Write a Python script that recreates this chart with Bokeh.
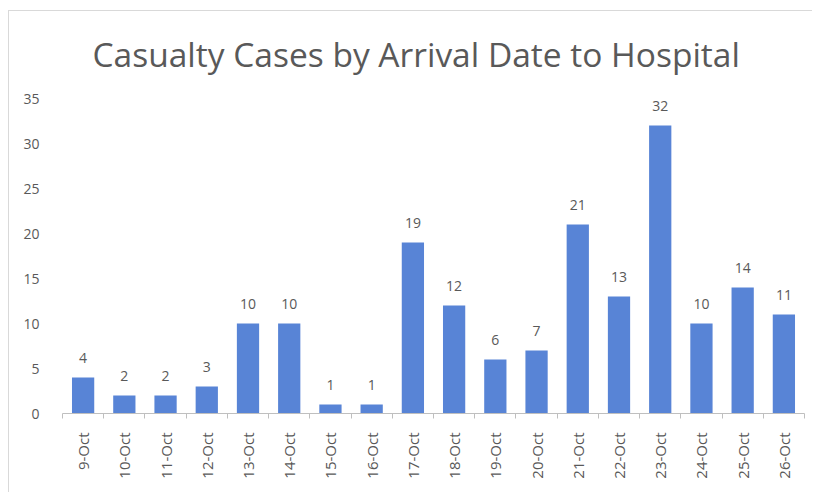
from bokeh.plotting import figure
from bokeh.models import ColumnDataSource, Range1d, FixedTicker, LabelSet
from bokeh.core.properties import value
from bokeh.embed import file_html
from bokeh.resources import INLINE

categories = ["9-Oct", "10-Oct", "11-Oct", "12-Oct", "13-Oct", "14-Oct", "15-Oct", "16-Oct", "17-Oct",
              "18-Oct", "19-Oct", "20-Oct", "21-Oct", "22-Oct", "23-Oct", "24-Oct", "25-Oct", "26-Oct"]
cases = [4, 2, 2, 3, 10, 10, 1, 1, 19, 12, 6, 7, 21, 13, 32, 10, 14, 11]
y_ticks = [0, 5, 10, 15, 20, 25, 30, 35]
title_text = "Casualty Cases by Arrival Date to Hospital"

idx = list(range(len(categories)))
src = ColumnDataSource(dict(x=idx, y=cases, label=[str(v) for v in cases]))

FONT = "Open Sans"
p = figure(width=804, height=482, output_backend="svg", toolbar_location=None,
           x_range=Range1d(-0.5, len(categories) - 0.5), y_range=Range1d(0, 35),
           min_border_left=53, min_border_right=9, min_border_bottom=80, min_border_top=87)

p.title.text = title_text
p.title.align = "left"
p.title.vertical_align = "top"
p.title.offset = 30
p.title.standoff = 39
p.title.text_font = FONT
p.title.text_font_size = "33.5px"
p.title.text_font_style = "normal"
p.title.text_color = "#595959"

p.vbar(x="x", top="y", width=0.54, source=src, color="#5884d6", line_color=None)

labels = LabelSet(x="x", y="y", text="label", source=src, text_align="center",
                  text_baseline="bottom", y_offset=15, text_font=value(FONT),
                  text_font_size=value("14px"), text_color="#595959")
p.add_layout(labels)

p.xgrid.grid_line_color = None
p.ygrid.grid_line_color = None
p.outline_line_color = None

# x axis
p.xaxis.ticker = FixedTicker(ticks=idx, minor_ticks=[i - 0.5 for i in range(len(categories) + 1)])
p.xaxis.major_label_overrides = {i: c for i, c in zip(idx, categories)}
p.xaxis.major_label_orientation = 1.5708
p.xaxis.major_tick_line_color = None
p.xaxis.minor_tick_line_color = "#bfbfbf"
p.xaxis.minor_tick_out = 5
p.xaxis.minor_tick_in = 0
p.xaxis.axis_line_color = "#bfbfbf"
p.xaxis.major_label_text_font = FONT
p.xaxis.major_label_text_font_size = "15px"
p.xaxis.major_label_text_color = "#595959"
p.xaxis.major_label_standoff = 13

# y axis
p.yaxis.ticker = FixedTicker(ticks=y_ticks)
p.yaxis.axis_line_color = None
p.yaxis.major_tick_line_color = None
p.yaxis.minor_tick_line_color = None
p.yaxis.major_label_text_font = FONT
p.yaxis.major_label_text_font_size = "14px"
p.yaxis.major_label_text_color = "#595959"
p.yaxis.major_label_standoff = 17

p.border_fill_color = "white"
p.styles = {"margin-left": "8px", "margin-top": "10px",
            "border-left": "1px solid #d9d9d9", "border-top": "1px solid #d9d9d9"}

open("out.html", "w").write(file_html(p, INLINE))
